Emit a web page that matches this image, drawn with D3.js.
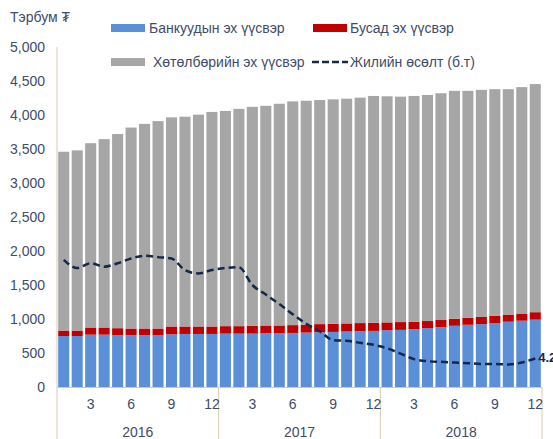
<!DOCTYPE html>
<html>
<head>
<meta charset="utf-8">
<script src="https://cdn.jsdelivr.net/npm/d3@7"></script>
<style>
  body { margin: 0; background: #fff; }
  svg { font-family: "Liberation Sans", Arial, sans-serif; }
</style>
</head>
<body>
<svg id="chart" width="553" height="439"></svg>
<script>
// monthly data, 2016-01 .. 2018-12
const years = ['2016', '2017', '2018'];
const months = [1, 2, 3, 4, 5, 6, 7, 8, 9, 10, 11, 12,
  1, 2, 3, 4, 5, 6, 7, 8, 9, 10, 11, 12,
  1, 2, 3, 4, 5, 6, 7, 8, 9, 10, 11, 12];

// Банкуудын эх үүсвэр
const bankSrc = [750, 750, 770, 770, 765, 765, 760, 760, 775, 780, 780, 780,
  785, 785, 785, 790, 790, 795, 800, 805, 810, 815, 820, 825,
  835, 840, 850, 865, 880, 900, 915, 925, 940, 960, 975, 990];
// Бусад эх үүсвэр
const otherSrc = [80, 80, 105, 105, 100, 95, 100, 100, 115, 110, 110, 110,
  110, 110, 115, 115, 115, 115, 115, 120, 120, 120, 120, 120,
  115, 115, 110, 105, 105, 105, 105, 105, 105, 105, 105, 110];
// Хөтөлбөрийн эх үүсвэр
const progSrc = [2630, 2650, 2710, 2770, 2855, 2955, 3010, 3050, 3075, 3085, 3115, 3155,
  3165, 3195, 3220, 3230, 3260, 3290, 3295, 3295, 3300, 3305, 3315, 3335,
  3325, 3315, 3320, 3325, 3335, 3350, 3335, 3340, 3335, 3315, 3330, 3355];
// Жилийн өсөлт (б.т), %
const growth = [18.7, 17.5, 18.2, 17.7, 18.2, 18.9, 19.3, 19.1, 18.9, 17.2, 16.7, 17.2,
  17.5, 17.6, 15.0, 13.6, 12.2, 10.7, 9.3, 8.2, 6.9, 6.8, 6.5, 6.2,
  5.7, 4.9, 4.1, 3.8, 3.7, 3.6, 3.5, 3.4, 3.4, 3.3, 3.6, 4.2];

const yTicks = [0, 500, 1000, 1500, 2000, 2500, 3000, 3500, 4000, 4500, 5000];

const TEXT = '#3e4c6a';
const AXIS = '#d6cbb0';
const COLORS = { bank: '#5b8fd8', other: '#c00000', prog: '#a6a6a6' };

const svg = d3.select('svg#chart');
const plotL = 57, plotR = 542, plotT = 47, plotB = 387;

const idx = d3.range(months.length);
const x = d3.scaleBand().domain(idx).range([plotL, plotR]).paddingInner(0.18).paddingOuter(0.09);
const y = d3.scaleLinear().domain([0, 5000]).range([plotB, plotT]);
const y2 = d3.scaleLinear().domain([0, 50]).range([plotB, plotT]);

const rows = idx.map(i => ({ i, bank: bankSrc[i], other: otherSrc[i], prog: progSrc[i] }));
const stacked = d3.stack().keys(['bank', 'other', 'prog'])(rows);

svg.append('g')
  .selectAll('g')
  .data(stacked)
  .enter()
  .append('g')
  .attr('fill', d => COLORS[d.key])
  .selectAll('rect')
  .data(d => d)
  .enter()
  .append('rect')
  .attr('x', d => x(d.data.i))
  .attr('width', x.bandwidth())
  .attr('y', d => y(d[1]))
  .attr('height', d => y(d[0]) - y(d[1]));

// y axis labels
const yAxis = svg.append('g')
  .attr('transform', `translate(${plotL},0)`)
  .call(d3.axisLeft(y).tickValues(yTicks).tickFormat(d3.format(',')).tickSize(0).tickPadding(12));
yAxis.select('.domain').remove();
yAxis.selectAll('text').attr('fill', TEXT).attr('font-size', 14).attr('font-family', null);

// axis lines
svg.append('line').attr('x1', plotL).attr('x2', plotL).attr('y1', plotT).attr('y2', 439)
  .attr('stroke', AXIS).attr('stroke-width', 1);
svg.append('line').attr('x1', plotL).attr('x2', plotR).attr('y1', plotB + 0.5).attr('y2', plotB + 0.5)
  .attr('stroke', AXIS).attr('stroke-width', 1);
[12, 24, 36].forEach(k => {
  const xx = k === 36 ? plotR : x(k) - x.step() * x.paddingInner() / 2;
  svg.append('line').attr('x1', xx).attr('x2', xx).attr('y1', plotB).attr('y2', 439)
    .attr('stroke', AXIS).attr('stroke-width', 1);
});

// month labels
const xAxis = svg.append('g')
  .attr('transform', `translate(0,${plotB})`)
  .call(d3.axisBottom(x).tickValues(idx.filter(i => months[i] % 3 === 0))
    .tickFormat(i => months[i]).tickSize(0).tickPadding(12));
xAxis.select('.domain').remove();
xAxis.selectAll('text').attr('fill', TEXT).attr('font-size', 14).attr('font-family', null);

// year labels
svg.append('g')
  .selectAll('text')
  .data(years)
  .enter()
  .append('text')
  .attr('x', (d, k) => (x(k * 12) + x(k * 12 + 11) + x.bandwidth()) / 2)
  .attr('y', 437)
  .attr('text-anchor', 'middle')
  .attr('fill', TEXT)
  .attr('font-size', 14)
  .text(d => d);

// growth line
const line = d3.line()
  .x((d, i) => x(i) + x.bandwidth() / 2)
  .y(d => y2(d))
  .curve(d3.curveMonotoneX);
svg.append('path')
  .datum(growth)
  .attr('d', line)
  .attr('fill', 'none')
  .attr('stroke', '#14284a')
  .attr('stroke-width', 2.5)
  .attr('stroke-dasharray', '7,4');

svg.append('text')
  .attr('x', x(35) + x.bandwidth() / 2 + 3)
  .attr('y', y2(growth[35]) + 4)
  .attr('fill', '#14284a')
  .attr('font-size', 13)
  .attr('font-weight', 'bold')
  .text(growth[35]);

// title
svg.append('text').attr('x', 10).attr('y', 22).attr('fill', TEXT).attr('font-size', 14).text('Тэрбум ₮');

// legend
const legend = [
  { label: 'Банкуудын эх үүсвэр', color: COLORS.bank, type: 'rect', x: 111, y: 28, tx: 149 },
  { label: 'Бусад эх үүсвэр', color: COLORS.other, type: 'rect', x: 313, y: 28, tx: 350 },
  { label: 'Хөтөлбөрийн эх үүсвэр', color: COLORS.prog, type: 'rect', x: 111, y: 62, tx: 153 },
  { label: 'Жилийн өсөлт (б.т)', color: '#14284a', type: 'line', x: 312, y: 62, tx: 350 }
];
legend.forEach(l => {
  if (l.type === 'rect') {
    svg.append('rect').attr('x', l.x).attr('y', l.y - 4).attr('width', 34).attr('height', 8).attr('fill', l.color);
  } else {
    svg.append('line').attr('x1', l.x).attr('x2', l.x + 36).attr('y1', l.y).attr('y2', l.y)
      .attr('stroke', l.color).attr('stroke-width', 2.5).attr('stroke-dasharray', '7,3');
  }
  svg.append('text').attr('x', l.tx).attr('y', l.y + 5).attr('fill', TEXT).attr('font-size', 14).text(l.label);
});
</script>
</body>
</html>
